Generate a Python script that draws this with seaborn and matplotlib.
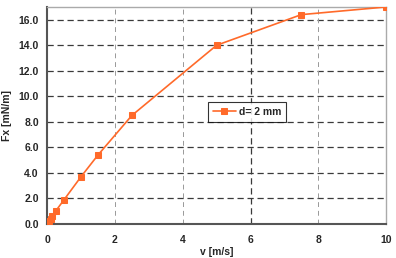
import matplotlib
matplotlib.use("Agg")
import matplotlib.pyplot as plt
import seaborn as sns
import pandas as pd

v = [0.05, 0.1, 0.15, 0.25, 0.5, 1.0, 1.5, 2.5, 5.0, 7.5, 10.0]
fx = [0.2, 0.4, 0.6, 1.0, 1.9, 3.7, 5.4, 8.5, 14.0, 16.4, 17.0]
series_label = "d= 2 mm"
xticks = [0, 2, 4, 6, 8, 10]
yticks = [0, 2, 4, 6, 8, 10, 12, 14, 16]

sns.set_style("white")
plt.rcParams['font.family'] = ['Liberation Sans', 'DejaVu Sans']
plt.rcParams['font.weight'] = 'bold'

df = pd.DataFrame({"v": v, "Fx": fx})
fig = plt.figure(figsize=(3.96, 2.58), dpi=100)
ax = fig.add_axes([0.119, 0.132, 0.856, 0.841])

orange = "#FF6A2A"
sns.lineplot(data=df, x="v", y="Fx", ax=ax, marker="s", color=orange,
             markersize=5, markeredgecolor=orange, linewidth=1.2,
             label=series_label, zorder=5)

ax.set_xlim(0, 10)
ax.set_ylim(0, 17)
ax.set_xticks(xticks)
ax.set_yticks(yticks)
ax.set_xticklabels([str(t) for t in xticks], fontsize=7.5, fontweight='bold')
ax.set_yticklabels([f"{t:.1f}" for t in yticks], fontsize=7.5, fontweight='bold')

for yy in yticks[1:]:
    ax.axhline(yy, color="#3a3a3a", linestyle=(0, (5, 3)), linewidth=0.9, zorder=1)
for xx in [2, 4, 8]:
    ax.axvline(xx, color="#999999", linestyle=(0, (5, 4)), linewidth=0.7, zorder=1)
ax.axvline(6, color="#3a3a3a", linestyle=(0, (5, 3)), linewidth=0.9, zorder=1)

for s in ["left", "bottom"]:
    ax.spines[s].set_color("#555555")
    ax.spines[s].set_linewidth(1.5)
for s in ["right", "top"]:
    ax.spines[s].set_color("#AAAAAA")
    ax.spines[s].set_linewidth(1.0)

ax.tick_params(axis='both', length=3, width=1, color="#555555", pad=3, direction='out')
ax.tick_params(axis='x', pad=5)
ax.set_xlabel("v [m/s]", fontsize=7.5, fontweight='bold', labelpad=1.5)
ax.set_ylabel("Fx [mN/m]", fontsize=7.5, fontweight='bold', labelpad=5)

leg = ax.legend(loc="upper left", bbox_to_anchor=(0.475, 0.56), frameon=True,
                fancybox=False, fontsize=7.5, handlelength=2.2, handletextpad=0.3,
                borderpad=0.45, borderaxespad=0)
leg.get_frame().set_edgecolor("black")
leg.get_frame().set_linewidth(0.8)
for t in leg.get_texts():
    t.set_fontweight('bold')

fig.savefig("out.png", dpi=100)
